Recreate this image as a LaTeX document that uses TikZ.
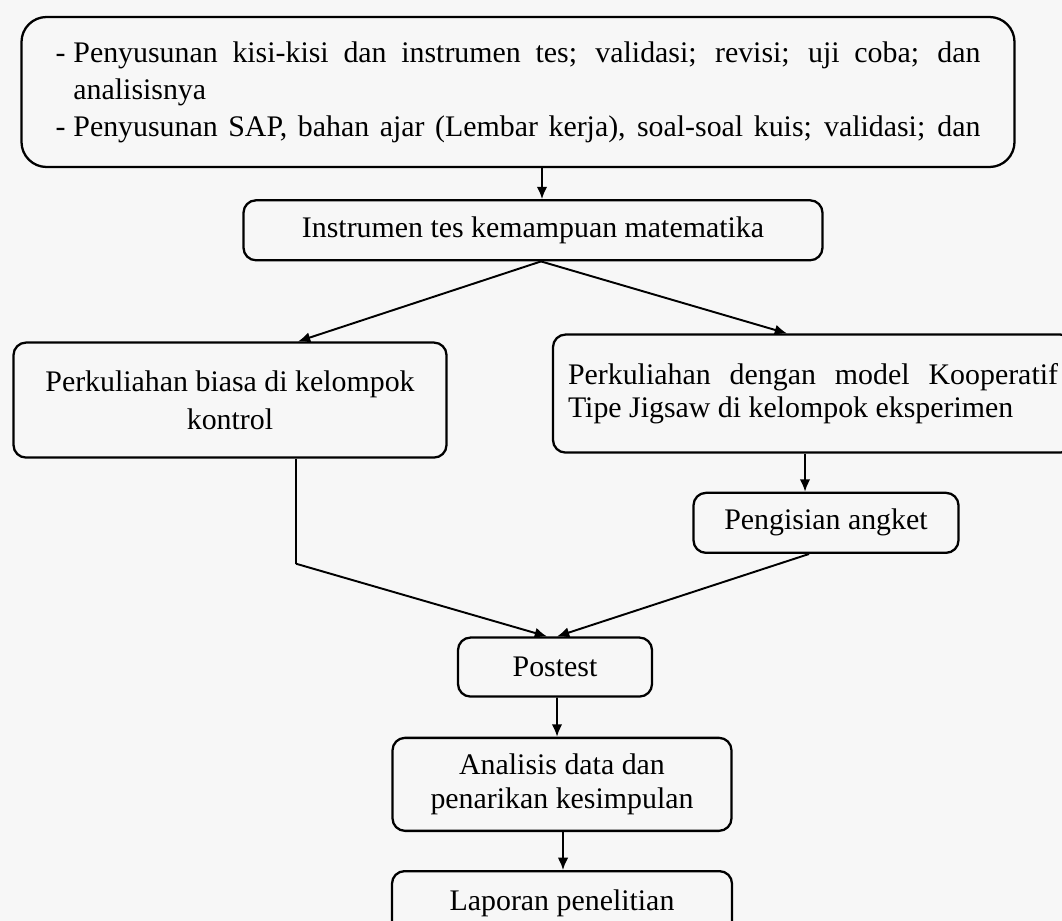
\documentclass[tikz,border=0pt]{standalone}
\usepackage{fontspec}
\setmainfont{Liberation Serif}
\usetikzlibrary{arrows.meta, positioning, calc}
\tikzset{
    block/.style={rectangle, draw, line width=1.3pt, rounded corners=0.25cm, text centered, inner sep=0pt, font=\fontsize{17}{20}\selectfont},
    arrow/.style={-{Latex[length=7pt, width=6pt]}, line width=1.1pt},
    link/.style={line width=1.1pt}
}

\begin{document}
\begin{tikzpicture}[node distance=0.66cm and 1cm]
            \useasboundingbox (0,0) rectangle (21.24,-18.42);
            \clip (0,0) rectangle (21.24,-18.42);
            \fill[black!3] (0,0) rectangle (21.24,-18.42);

			\node (prep) [block, rounded corners=0.5cm, minimum width=19.86cm, minimum height=3cm, text width=18.5cm, align=justify, font=\fontsize{17}{21}\selectfont] at (10.36,-1.84) {\hangindent=0.6em\hangafter=1 \makebox[0.6em][l]{-}Penyusunan kisi-kisi dan instrumen tes; validasi; revisi; uji coba; dan\linebreak analisisnya\par
            \hangindent=0.6em\hangafter=1\parfillskip=0pt \makebox[0.6em][l]{-}Penyusunan SAP, bahan ajar (Lembar kerja), soal-soal kuis; validasi; dan\par};

            \node (inst) [block, below=0.62cm of prep, xshift=0.3cm, minimum width=11.58cm, minimum height=1.2cm] {Instrumen tes kemampuan matematika};
            \node (kontrol) [block, below=1.6cm of inst, xshift=-6.06cm, minimum width=8.66cm, minimum height=2.3cm, align=center, font=\fontsize{17}{21.5}\selectfont] {Perkuliahan biasa di kelompok\\ kontrol};
            \node (jigsaw) [block, below=1.44cm of inst, xshift=5.6cm, minimum width=10.4cm, minimum height=2.36cm, text width=9.8cm, align=justify, font=\fontsize{17}{19}\selectfont] {Perkuliahan dengan model Kooperatif\linebreak Tipe Jigsaw di kelompok eksperimen\par\vspace*{0.4cm}};
            \node (angket) [block, below=0.76cm of jigsaw, xshift=0.26cm, minimum width=5.3cm, minimum height=1.2cm] {Pengisian angket};
            \node (postest) [block, below=7.5cm of inst, xshift=0.44cm, minimum width=3.88cm, minimum height=1.18cm] {Postest};
            \node (analisis) [block, below=0.78cm of postest, xshift=0.14cm, minimum width=6.78cm, minimum height=1.86cm, align=center, font=\fontsize{17}{19}\selectfont] {Analisis data dan\\ penarikan kesimpulan};
            \node (laporan) [block, below=0.76cm of analisis, minimum width=6.8cm, minimum height=1.28cm] {Laporan penelitian};

            % Arrows
            \draw [arrow] ($(prep.south)+(0.48,0)$) -- ($(inst.north)+(0.18,0)$);
            \draw [arrow] ($(inst.south)+(0.16,0)$) -- ($(kontrol.north)+(1.36,0)$);
            \draw [arrow] ($(inst.south)+(0.16,0)$) -- ($(jigsaw.north)+(-0.52,0)$);
            \draw [arrow] ($(jigsaw.south)+(-0.16,0)$) -- ($(angket.north)+(-0.42,0)$);

            % Merge into postest
            \coordinate (kbend) at ($(kontrol.south)+(1.32,-2.1)$);
            \draw [link] ($(kontrol.south)+(1.32,0)$) -- (kbend);
            \draw [arrow] (kbend) -- ($(postest.north)+(-0.16,0)$);
            \draw [arrow] ($(angket.south)+(-0.34,0)$) -- ($(postest.north)+(0.04,0)$);

            \draw [arrow] ($(postest.south)+(0.04,0)$) -- ($(analisis.north)+(-0.1,0)$);
            \draw [arrow] ($(analisis.south)+(0.02,0)$) -- ($(laporan.north)+(0.02,0)$);
		\end{tikzpicture}
\end{document}
